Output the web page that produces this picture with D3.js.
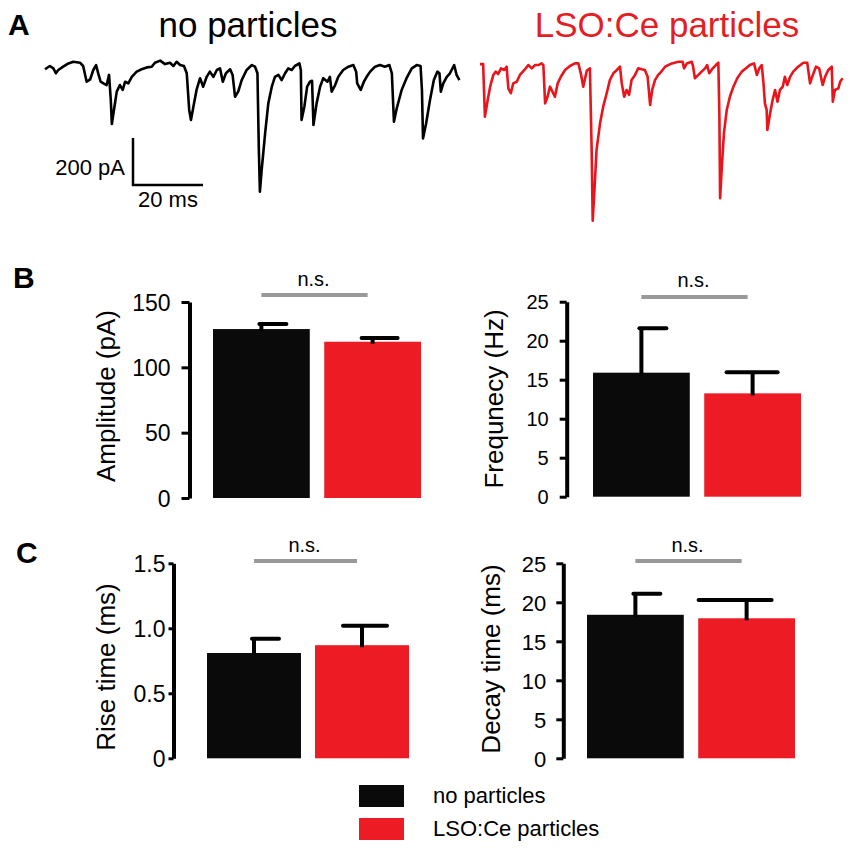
<!DOCTYPE html>
<html>
<head>
<meta charset="utf-8">
<script src="https://cdn.jsdelivr.net/npm/d3@7"></script>
<style>
  body { margin: 0; background: #fff; }
  svg { display: block; }
  text { font-family: "Liberation Sans", Arial, sans-serif; }
</style>
</head>
<body>
<script>
let w = 850;
let h = 848;

// groups
let groups = ["no particles", "LSO:Ce particles"];
let colors = ["#0a0a0a", "#ed1c24"];

// bar data (mean, error)
let amplitude = [129.3, 119.6];
let amplitudeErr = [3.8, 2.9];
let frequency = [15.9, 13.25];
let frequencyErr = [5.7, 2.7];
let riseTime = [0.81, 0.87];
let riseTimeErr = [0.11, 0.15];
let decayTime = [18.4, 17.95];
let decayTimeErr = [2.7, 2.35];

// tick values
let ampTicks = [0, 50, 100, 150];
let freqTicks = [0, 5, 10, 15, 20, 25];
let riseTicks = [0, 0.5, 1.0, 1.5];
let decayTicks = [0, 5, 10, 15, 20, 25];

// example traces, [time ms, current pA]
let traceNone = [[0,-31],[1.4,-17],[2.4,-27],[3.1,-48],[3.8,-34],[5.2,-20],[6.7,-6],[8.1,1],[10,-3],[10.9,-17],
  [11.9,-84],[12.9,-74],[13.8,-34],[14.6,-13],[15.2,-48],[15.9,-84],[16.7,-91],[17.6,-98],[18.3,-55],[18.8,-162],
  [19.1,-264],[19.7,-204],[20.5,-126],[21.4,-98],[22.2,-119],[22.9,-84],[23.8,-91],[24.8,-63],[26.2,-41],[27.6,-31],
  [29.1,-23],[30.5,-20],[31.4,-3],[32.9,6],[34.3,-9],[35.7,-3],[36.7,-17],[37.6,1],[38.6,-13],[39.7,-17],
  [40.5,-48],[41.2,-204],[41.7,-247],[42.4,-190],[43.3,-119],[44.3,-69],[45.2,-105],[46.2,-63],[47.1,-41],[48.1,-63],
  [49.1,-34],[50,-27],[50.8,-84],[51.7,-48],[52.9,-31],[53.6,-55],[54.3,-148],[55.2,-126],[56.2,-77],[57.6,-34],
  [59.1,-13],[60,-20],[60.7,-48],[61.1,-374],[61.4,-552],[61.9,-460],[62.9,-303],[63.8,-176],[64.8,-105],[65.7,-63],
  [66.7,-55],[67.6,-77],[68.6,-48],[69.5,-27],[70.5,-34],[71.4,-17],[72.7,-6],[73.1,-34],[73.3,-247],[74.1,-190],
  [74.9,-105],[75.7,-84],[76.3,-80],[76.7,-268],[77.6,-176],[78.6,-105],[79.5,-69],[80.7,-84],[81.4,-63],[81.9,-126],
  [82.9,-98],[83.8,-63],[85.2,-34],[86.7,-20],[88.1,-13],[88.9,-41],[89.2,-91],[90.2,-119],[91.1,-84],[91.9,-63],
  [92.9,-41],[94.3,-20],[95.7,-13],[97.1,-20],[98.4,-13],[99.1,-48],[99.7,-254],[100.5,-197],[101.9,-119],[103.3,-69],
  [104.8,-27],[106.2,-13],[107.3,-17],[107.7,-119],[108,-325],[108.9,-261],[110,-162],[111.1,-77],[112.1,-41],[112.7,-48],
  [113.1,-126],[113.8,-91],[114.8,-63],[115.7,-48],[116.9,-13],[117.6,-55],[118.4,-77]];

let traceLso = [[0,-9],[0.9,-9],[1.4,-233],[2.2,-162],[2.9,-105],[3.8,-55],[4.5,-41],[5.2,-51],[6,-27],[6.9,-34],
  [7.6,-20],[8.1,-112],[8.8,-133],[9.5,-91],[10.5,-84],[11.4,-55],[12.7,-34],[13.8,-13],[14.8,-27],[15.7,-13],
  [16.7,-13],[17.6,-6],[18.1,-13],[18.6,-176],[19.3,-148],[20,-105],[20.7,-126],[21.4,-148],[22.2,-91],[23.1,-63],
  [24.3,-34],[25.7,-17],[27.1,-6],[28.1,-6],[28.9,-55],[29.5,-105],[30.5,-37],[31.4,-27],[31.9,-374],[32.2,-675],
  [32.7,-545],[33.3,-374],[34.3,-261],[35.2,-190],[36.2,-133],[37.1,-77],[38.1,-48],[39.1,-34],[40,-20],[40.5,-91],
  [41.2,-148],[41.9,-119],[42.6,-140],[43.3,-77],[44.3,-55],[45.2,-27],[46.2,-31],[47.1,-34],[47.9,-63],[48.6,-183],
  [49.2,-119],[50,-77],[50.9,-55],[51.4,-48],[52.9,-20],[54.8,-6],[56.7,1],[57.9,1],[58.3,-27],[59.1,-6],
  [60.5,1],[60.9,-20],[61.4,-69],[62.4,-55],[63.3,-41],[64.3,-27],[64.9,-13],[65.5,-48],[66.5,-27],[67.4,-13],
  [68.1,-3],[68.4,-233],[68.6,-580],[69.1,-445],[69.7,-303],[70.5,-204],[71.4,-148],[72.4,-105],[73.5,-69],[74.8,-41],
  [76,-27],[77.1,-13],[78.3,-6],[79.1,-55],[79.8,-27],[80.5,-13],[81,-91],[81.4,-176],[81.9,-204],[82.1,-289],
  [82.9,-218],[83.6,-162],[84.3,-119],[85,-169],[85.7,-119],[86.5,-105],[87.1,-63],[87.8,-98],[88.6,-63],[89.5,-41],
  [90.9,-20],[92.4,-3],[93.5,-3],[94.3,-91],[95.1,-55],[96,-20],[96.9,-27],[97.9,-98],[98.6,-63],[99.5,-34],
  [100.5,-20],[100.8,-169],[101.4,-119],[102.4,-112],[102.9,-84],[103.6,-69]];

let svg = d3.select("body")
  .append("svg")
  .attr("width", w)
  .attr("height", h);

svg.append("rect").attr("width", w).attr("height", h).attr("fill", "#fff");

// Panel letters
let letters = [["A", 8, 35], ["B", 13, 288], ["C", 16, 563]];
svg.selectAll("text.letter")
  .data(letters)
  .enter()
  .append("text")
  .attr("class", "letter")
  .attr("x", d => d[1])
  .attr("y", d => d[2])
  .attr("font-size", "30px")
  .attr("font-weight", "bold")
  .text(d => d[0]);

// ---- Panel A: traces ----
let tx = d3.scaleLinear().domain([0, 20]).range([0, 70]);
let ty = d3.scaleLinear().domain([0, -200]).range([0, 47]);
let traceLine = d3.line().x(d => tx(d[0])).y(d => ty(d[1]));

svg.append("text")
  .attr("x", 248).attr("y", 37)
  .attr("text-anchor", "middle")
  .attr("font-size", "35px")
  .attr("fill", "#000")
  .text(groups[0]);

svg.append("text")
  .attr("x", 667).attr("y", 37)
  .attr("text-anchor", "middle")
  .attr("font-size", "35px")
  .attr("fill", "#e31e24")
  .text(groups[1]);

svg.append("path")
  .datum(traceNone)
  .attr("transform", "translate(45,62)")
  .attr("d", traceLine)
  .attr("fill", "none")
  .attr("stroke", "#000")
  .attr("stroke-width", 2.6)
  .attr("stroke-linejoin", "round");

svg.append("path")
  .datum(traceLso)
  .attr("transform", "translate(480,62)")
  .attr("d", traceLine)
  .attr("fill", "none")
  .attr("stroke", "#e8151c")
  .attr("stroke-width", 2.6)
  .attr("stroke-linejoin", "round");

// scale bar
let sb = svg.append("g").attr("transform", "translate(133,185)");
sb.append("path")
  .attr("d", "M0," + (ty(0) - ty(-200)) + "V0H" + tx(20))
  .attr("fill", "none")
  .attr("stroke", "#000")
  .attr("stroke-width", 2.5);
sb.append("text")
  .attr("x", -8).attr("y", -10)
  .attr("text-anchor", "end")
  .attr("font-size", "22px")
  .text("200 pA");
sb.append("text")
  .attr("x", tx(10)).attr("y", 22)
  .attr("text-anchor", "middle")
  .attr("font-size", "22px")
  .text("20 ms");

// ---- Panels B, C: bar charts ----
let panels = [
  { label: "Amplitude (pA)", values: amplitude, errs: amplitudeErr, ticks: ampTicks, fmt: d3.format("d"),
    axisX: 189.5, yRange: [498, 302], barRange: [213, 421], labelX: 115, labelY: 396,
    tickFont: 23, tickSize: 8, tickPad: 11, capLeft: -11, nsY: 295, nsTextY: 286 },
  { label: "Frequnecy (Hz)", values: frequency, errs: frequencyErr, ticks: freqTicks, fmt: d3.format("d"),
    axisX: 566.7, yRange: [496.7, 301.7], barRange: [593, 801], labelX: 503, labelY: 399,
    tickFont: 20, tickSize: 7, tickPad: 11, capLeft: -26, nsY: 297, nsTextY: 287 },
  { label: "Rise time (ms)", values: riseTime, errs: riseTimeErr, ticks: riseTicks,
    fmt: d => d === 0 ? "0" : d3.format(".1f")(d),
    axisX: 173.5, yRange: [758.3, 563.3], barRange: [207, 409], labelX: 115, labelY: 667,
    tickFont: 23, tickSize: 5, tickPad: 3, capLeft: -19, nsY: 561, nsTextY: 552 },
  { label: "Decay time (ms)", values: decayTime, errs: decayTimeErr, ticks: decayTicks, fmt: d3.format("d"),
    axisX: 563.3, yRange: [758.3, 563.3], barRange: [587, 795], labelX: 500, labelY: 659,
    tickFont: 22, tickSize: 7, tickPad: 10, capLeft: -48, nsY: 561, nsTextY: 552 }
];

panels.forEach(p => {
  let g = svg.append("g");

  let x = d3.scaleBand()
    .domain(groups)
    .range(p.barRange)
    .paddingInner(0.13);

  let y = d3.scaleLinear()
    .domain([0, d3.max(p.ticks)])
    .range(p.yRange);

  let rows = groups.map((k, i) => ({ key: k, value: p.values[i], err: p.errs[i], color: colors[i], i: i }));

  // bars
  g.selectAll("rect.bar")
    .data(rows)
    .enter()
    .append("rect")
    .attr("class", "bar")
    .attr("x", d => x(d.key))
    .attr("y", d => y(d.value))
    .attr("width", x.bandwidth())
    .attr("height", d => y(0) - y(d.value))
    .attr("fill", d => d.color);

  // error stems
  g.selectAll("line.stem")
    .data(rows)
    .enter()
    .append("line")
    .attr("x1", d => x(d.key) + x.bandwidth() / 2)
    .attr("x2", d => x(d.key) + x.bandwidth() / 2)
    .attr("y1", d => y(d.value) + 2)
    .attr("y2", d => y(d.value + d.err))
    .attr("stroke", "#000")
    .attr("stroke-width", 4);

  // error caps
  g.selectAll("line.cap")
    .data(rows)
    .enter()
    .append("line")
    .attr("x1", d => x(d.key) + x.bandwidth() / 2 + (d.i === 0 ? -2 : p.capLeft))
    .attr("x2", d => x(d.key) + x.bandwidth() / 2 + 25)
    .attr("y1", d => y(d.value + d.err))
    .attr("y2", d => y(d.value + d.err))
    .attr("stroke", "#000")
    .attr("stroke-width", 4)
    .attr("stroke-linecap", "round");

  // y axis
  let ax = g.append("g")
    .attr("transform", "translate(" + p.axisX + ",0)")
    .call(d3.axisLeft(y)
      .tickValues(p.ticks)
      .tickFormat(p.fmt)
      .tickSize(p.tickSize)
      .tickSizeOuter(0)
      .tickPadding(p.tickPad));
  ax.select(".domain").attr("stroke", "#000").attr("stroke-width", 4);
  ax.selectAll(".tick line").attr("stroke", "#000").attr("stroke-width", 3);
  ax.selectAll(".tick text")
    .attr("font-family", "Liberation Sans, Arial, sans-serif")
    .attr("font-size", p.tickFont + "px")
    .attr("fill", "#000")
    .attr("dy", "0.36em");

  // axis label
  g.append("text")
    .attr("transform", "translate(" + p.labelX + "," + p.labelY + ") rotate(-90)")
    .attr("text-anchor", "middle")
    .attr("font-size", "26px")
    .text(p.label);

  // n.s. bracket
  let x1 = x(groups[0]) + x.bandwidth() / 2;
  let x2 = x(groups[1]) + x.bandwidth() / 2 - 5;
  g.append("line")
    .attr("x1", x1).attr("x2", x2)
    .attr("y1", p.nsY).attr("y2", p.nsY)
    .attr("stroke", "#999")
    .attr("stroke-width", 4);
  g.append("text")
    .attr("x", (x1 + x2) / 2 - 1)
    .attr("y", p.nsTextY)
    .attr("text-anchor", "middle")
    .attr("font-size", "20px")
    .text("n.s.");
});

// Legend
let legend = svg.selectAll("g.legend")
  .data(groups)
  .enter()
  .append("g")
  .attr("class", "legend")
  .attr("transform", (d, i) => "translate(359," + (785 + i * 33) + ")");

legend.append("rect")
  .attr("width", 45)
  .attr("height", 22)
  .attr("fill", (d, i) => colors[i]);

legend.append("text")
  .attr("x", 74)
  .attr("y", 18)
  .attr("font-size", "22px")
  .text(d => d);
</script>
</body>
</html>
